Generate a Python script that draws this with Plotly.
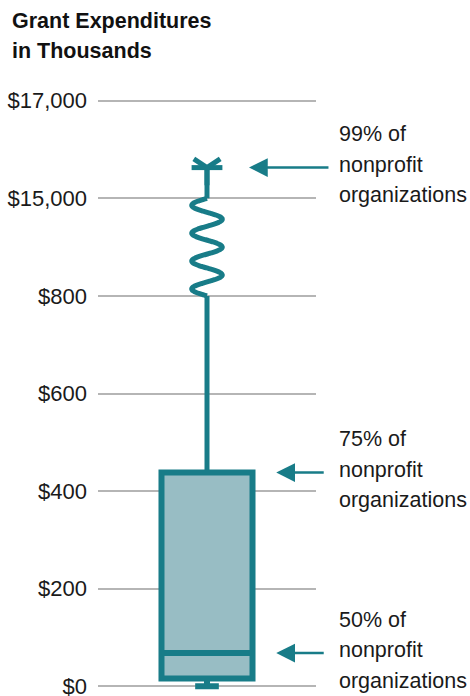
import numpy as np
import plotly.graph_objects as go

# ---- data (thousands of dollars) ----
tick_values = [0, 200, 400, 600, 800, 15000, 17000]
tick_labels = ["$0", "$200", "$400", "$600", "$800", "$15,000", "$17,000"]
box_stats = {"min": 0, "q1": 16, "median": 68, "q3": 438, "whisker_top": 800, "p99": 15630}
break_low, break_high = 800, 15000
annot_lines = [["99% of", "nonprofit", "organizations"],
               ["75% of", "nonprofit", "organizations"],
               ["50% of", "nonprofit", "organizations"]]
annot_keys = ["p99", "q3", "median"]
title_lines = ["Grant Expenditures", "in Thousands"]

TEAL = "#187c88"
FILL = "#98bdc4"
GRID = "#b5b5b5"
FONT = "Liberation Sans, Arial, sans-serif"


def pos(v):
    """Map a value onto the broken axis (each gridline is one unit)."""
    if v <= break_low:
        return v / 200.0
    if v <= break_high:
        return 4 + (v - break_low) / (break_high - break_low)
    return 5 + (v - break_high) / 2000.0


tick_pos = [pos(v) for v in tick_values]

fig = go.Figure()

# upper whisker to break
fig.add_trace(go.Scatter(x=[0, 0], y=[pos(box_stats["q3"]), pos(break_low)], mode="lines",
                         line=dict(color=TEAL, width=5), hoverinfo="skip", showlegend=False))
# squiggle for axis break (decorative)
t = np.linspace(0, 1, 200)
sq_y = pos(break_low) + t * (pos(break_high) - pos(break_low))
sq_x = -0.14 * np.sin(7 * np.pi * t)
fig.add_trace(go.Scatter(x=sq_x, y=sq_y, mode="lines", line=dict(color=TEAL, width=5, shape="spline"),
                         hoverinfo="skip", showlegend=False))
# whisker above break to the 99th percentile
fig.add_trace(go.Scatter(x=[0, 0], y=[pos(break_high), pos(box_stats["p99"])], mode="lines",
                         line=dict(color=TEAL, width=5), hoverinfo="skip", showlegend=False))
for sym, sz in [("y-down-open", 22), ("line-ew-open", 22)]:
    fig.add_trace(go.Scatter(x=[0], y=[pos(box_stats["p99"])], mode="markers",
                             marker=dict(symbol=sym, size=sz, color=TEAL, line=dict(color=TEAL, width=5)),
                             hoverinfo="skip", showlegend=False, cliponaxis=False))

# box
fig.add_trace(go.Box(x=[0], q1=[pos(box_stats["q1"])], median=[pos(box_stats["median"])],
                     q3=[pos(box_stats["q3"])], lowerfence=[pos(box_stats["min"])],
                     upperfence=[pos(box_stats["q3"])], width=0.835, whiskerwidth=0.26,
                     fillcolor=FILL, line=dict(color=TEAL, width=6), hoverinfo="skip",
                     showlegend=False, boxpoints=False))

# arrows + labels
arrow_heads = {"p99": (0.385, 81), "q3": (0.635, 49), "median": (0.635, 49)}
for key, lines in zip(annot_keys, annot_lines):
    yv = pos(box_stats[key])
    hx, ax = arrow_heads[key]
    fig.add_annotation(x=hx, y=yv, xref="x", yref="y", text="", showarrow=True,
                       ax=ax, ay=0, arrowhead=2, arrowsize=1.5, arrowwidth=2.5, arrowcolor=TEAL)
    for i, line in enumerate(lines):
        fig.add_annotation(x=(337 - 98) / 218, y=yv, xref="paper", yref="y", text=line,
                           showarrow=False, xanchor="left", yanchor="middle", align="left",
                           yshift=(1 - i) * 30.5 + 3,
                           font=dict(family=FONT, size=21.5, color="#1a1a1a"))

# title (two lines)
for i, line in enumerate(title_lines):
    fig.add_annotation(x=(10 - 98) / 218, y=(696 - 21 - 30 * i) / 605, xref="paper", yref="paper",
                       text="<b>" + line + "</b>", showarrow=False, xanchor="left", yanchor="middle",
                       font=dict(family=FONT, size=21.5, color="#111111"))

fig.update_layout(
    width=470, height=696,
    margin=dict(l=98, r=154, t=91, b=0, autoexpand=False),
    paper_bgcolor="white", plot_bgcolor="white",
    xaxis=dict(range=[-1, 1], showgrid=False, zeroline=False, showticklabels=False, fixedrange=True),
    yaxis=dict(range=[-0.1, 6.1], tickvals=tick_pos, ticktext=tick_labels, showgrid=True,
               gridcolor=GRID, gridwidth=2, zeroline=False, ticklabelstandoff=10,
               ticklabeloverflow="allow",
               tickfont=dict(family=FONT, size=22, color="#1a1a1a"), fixedrange=True),
    showlegend=False,
)

fig.write_html("out.html", config={"displayModeBar": False},
               post_script="document.body.style.margin='0';")
